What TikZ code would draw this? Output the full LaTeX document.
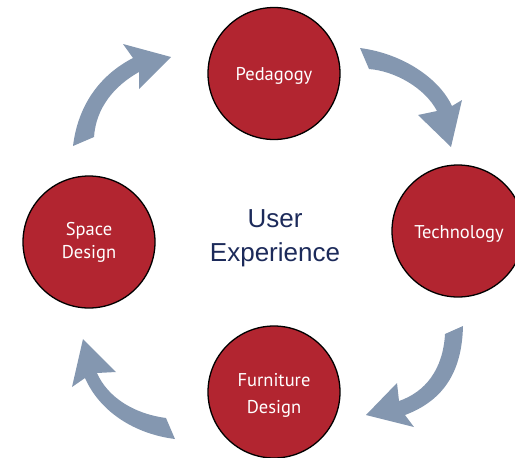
\documentclass[tikz,border=0pt]{standalone}
\usepackage{fontspec}
\setmainfont{Liberation Sans}
\newfontfamily\circfont{PT Sans}
\definecolor{circred}{HTML}{B22530}
\definecolor{arrowblue}{HTML}{8497B0}
\definecolor{navy}{HTML}{1C2A5A}
\begin{document}
\begin{tikzpicture}[x=1pt,y=-1pt,
  bubble/.style={circle,draw=black,line width=1.3pt,fill=circred,minimum size=132pt,inner sep=0pt},
  bubbletext/.style={text=white,font=\circfont\fontsize{18.5}{25}\selectfont,align=center,inner sep=0pt},
  blockarrow/.style={fill=arrowblue,draw=none},
  centertext/.style={text=navy,font=\fontsize{26}{34}\selectfont,align=center}]
\useasboundingbox (0,0) rectangle (515,458);
\clip (0,0) rectangle (515,458);
\node[bubble] (ped) at (274,73.5) {};
\node[bubble] (tech) at (458,231) {};
\node[bubble] (furn) at (274,392) {};
\node[bubble] (space) at (89,242) {};
\node[bubbletext] (pedl) at (274,76) {Pedagogy};
\node[bubbletext] (techl) at (459,234) {Technology};
\node[bubbletext] (furnl) at (274,395.5) {Furniture\\[2pt]Design};
\node[bubbletext] (spacel) at (89,242.5) {Space\\[-2pt]Design};
\node[centertext] (ux) at (275,238) {User\\Experience};
% arrow Pedagogy -> Technology
\path[blockarrow] (360,48) -- (369,69) .. controls (395,71) and (425,88) .. (437,111)
  -- (418,115) -- (451,147) -- (462,100) -- (452,106)
  .. controls (440,80) and (405,54) .. (360,48) -- cycle;
% arrow Technology -> Furniture
\path[blockarrow] (463,326) -- (445,334) .. controls (443,370) and (425,392) .. (399,401)
  -- (397,383) -- (366,415) -- (414,427) -- (405,415)
  .. controls (445,400) and (462,370) .. (463,326) -- cycle;
% arrow Furniture -> Space
\path[blockarrow] (175,439) -- (166,418) .. controls (135,414) and (108,398) .. (97,373)
  -- (116,372) -- (83,339) -- (72,387) -- (85,378)
  .. controls (100,412) and (135,434) .. (175,439) -- cycle;
% arrow Space -> Pedagogy
\path[blockarrow] (73,146) -- (94,137) .. controls (96,108) and (114,86) .. (139,72)
  -- (139,89) -- (171,57) -- (123,44) -- (133,58)
  .. controls (100,75) and (78,105) .. (73,146) -- cycle;
\end{tikzpicture}
\end{document}
